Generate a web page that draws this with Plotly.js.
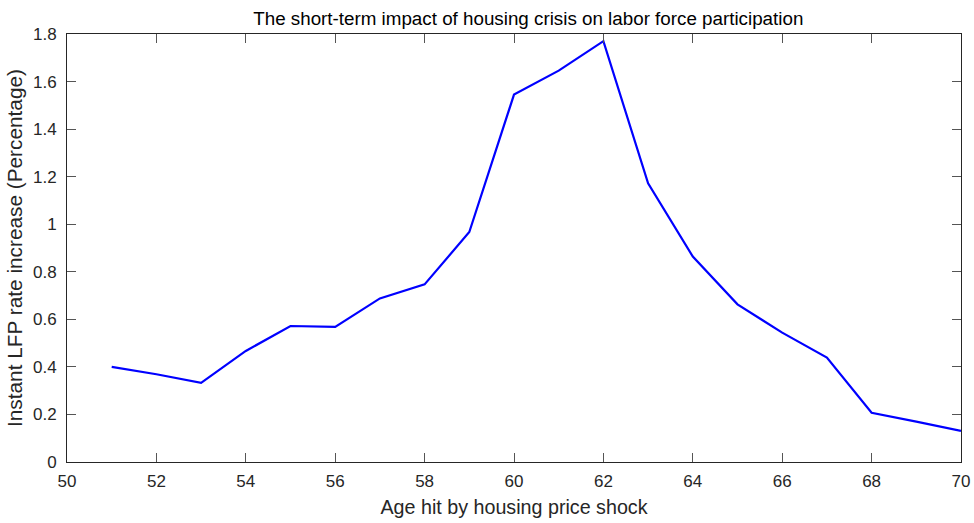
<!DOCTYPE html>
<html>
<head>
<meta charset="utf-8">
<script src="https://cdn.plot.ly/plotly-3.0.1.min.js"></script>
<style>html,body{margin:0;padding:0;background:#fff;}#chart{width:974px;height:523px;}</style>
</head>
<body>
<div id="chart"></div>
<script>
const ages = [51,52,53,54,55,56,57,58,59,60,61,62,63,64,65,66,67,68,69,70];
const lfpIncrease = [0.40,0.369,0.333,0.467,0.572,0.568,0.688,0.747,0.967,1.545,1.646,1.770,1.172,0.864,0.663,0.544,0.439,0.207,0.170,0.131];
const xTickVals = [50,52,54,56,58,60,62,64,66,68,70];
const yTickVals = [0,0.2,0.4,0.6,0.8,1,1.2,1.4,1.6,1.8];
const yTickText = ['0','0.2','0.4','0.6','0.8','1','1.2','1.4','1.6','1.8'];

const font = 'Liberation Sans, Arial, Helvetica, sans-serif';
const trace = {
  x: ages, y: lfpIncrease, type: 'scatter', mode: 'lines',
  line: {color: '#0000ff', width: 2.2}
};
const axisCommon = {
  showgrid: false, zeroline: false, showline: true, linecolor: '#262626', linewidth: 1,
  mirror: 'ticks', ticks: 'inside', ticklen: 9, tickcolor: '#555555', tickwidth: 1,
  tickfont: {family: font, size: 17, color: '#262626'}
};
const layout = {
  width: 974, height: 523,
  margin: {l: 67, r: 13, t: 34, b: 61},
  paper_bgcolor: '#fff', plot_bgcolor: '#fff',
  showlegend: false,
  title: {text: 'The short-term impact of housing crisis on labor force participation',
          font: {family: font, size: 18.8, color: '#000'}, x: 0.516, xref: 'paper', xanchor: 'center', y: 0.965, yanchor: 'middle'},
  xaxis: Object.assign({}, axisCommon, {
    range: [50, 70], tickvals: xTickVals, ticktext: xTickVals.map(String), ticklabelstandoff: 4,
    title: {text: 'Age hit by housing price shock', font: {family: font, size: 19.7, color: '#262626'}, standoff: 9}
  }),
  yaxis: Object.assign({}, axisCommon, {
    range: [0, 1.8], tickvals: yTickVals, ticktext: yTickText, ticklabelstandoff: 6,
    title: {text: 'Instant LFP rate increase (Percentage)', font: {family: font, size: 20.8, color: '#262626'}, standoff: 4}
  })
};
Plotly.newPlot('chart', [trace], layout, {displayModeBar: false, staticPlot: true});
</script>
</body>
</html>
